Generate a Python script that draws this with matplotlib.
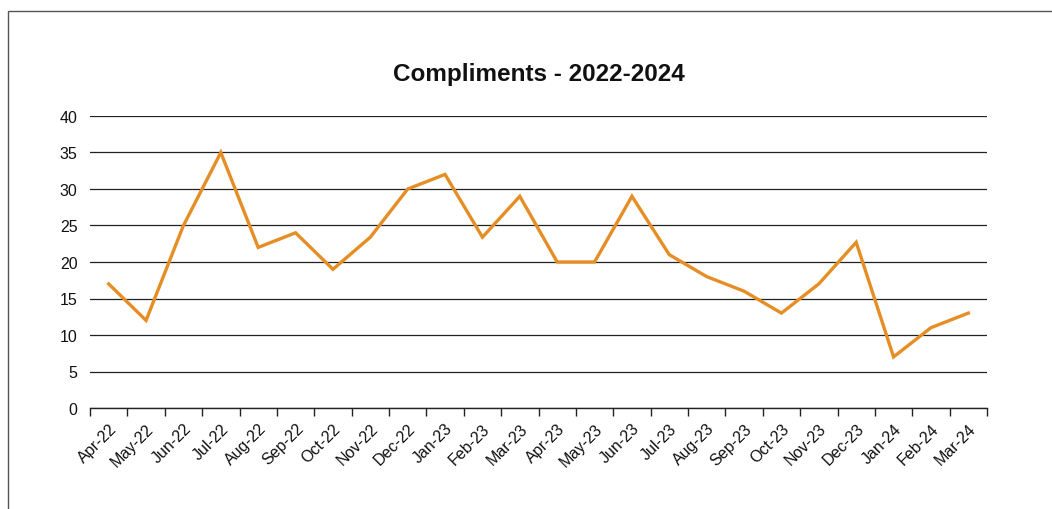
import matplotlib
matplotlib.use("Agg")
import matplotlib.pyplot as plt
from matplotlib.patches import Rectangle
import numpy as np

plt.rcParams['font.family'] = ['Liberation Sans', 'DejaVu Sans']

# monthly compliments, Apr-22 .. Mar-24
months = ['Apr-22', 'May-22', 'Jun-22', 'Jul-22', 'Aug-22', 'Sep-22', 'Oct-22', 'Nov-22',
          'Dec-22', 'Jan-23', 'Feb-23', 'Mar-23', 'Apr-23', 'May-23', 'Jun-23', 'Jul-23',
          'Aug-23', 'Sep-23', 'Oct-23', 'Nov-23', 'Dec-23', 'Jan-24', 'Feb-24', 'Mar-24']
compliments = [17, 12, 25, 35, 22, 24, 19, 23.4, 30, 32, 23.4, 29,
               20, 20, 29, 21, 18, 16, 13, 17, 22.7, 7, 11, 13]
y_ticks = [0, 5, 10, 15, 20, 25, 30, 35, 40]

W, H = 1052, 510
fig = plt.figure(figsize=(W / 100, H / 100), dpi=100)

# outer frame of the chart area
fig.patches.append(Rectangle((8 / W, -0.05), 1.2, 1 - 12 / H + 0.05, transform=fig.transFigure,
                             fill=False, edgecolor='#555555', linewidth=1.0))

ax = fig.add_axes([90 / W, 1 - 409 / H, (987 - 90) / W, (409 - 117) / H])
x = np.arange(len(months))
ax.plot(x, compliments, color='#E58E26', linewidth=2.4, solid_joinstyle='miter', zorder=3)

ax.set_xlim(-0.5, len(months) - 0.5)
ax.set_ylim(0, 40)
ax.set_yticks(y_ticks)
ax.yaxis.grid(True, color='#222222', linewidth=0.9)
ax.set_axisbelow(True)
ax.tick_params(axis='y', length=0, pad=9, labelsize=11.5, labelcolor='#111111')

# labels at category centres, tick marks at category boundaries
ax.set_xticks(x)
ax.set_xticklabels(months, rotation=45, ha='right', rotation_mode='anchor',
                   fontsize=11.5, color='#111111')
ax.tick_params(axis='x', which='major', length=0, pad=9)
ax.set_xticks(np.arange(-0.5, len(months)), minor=True)
ax.tick_params(axis='x', which='minor', length=6, width=1, color='#222222')

for s in ['top', 'right', 'left']:
    ax.spines[s].set_visible(False)
ax.spines['bottom'].set_color('#222222')
ax.spines['bottom'].set_linewidth(1.0)

fig.text((90 + 987) / 2 / W, 1 - 75 / H, 'Compliments - 2022-2024', ha='center', va='center',
         fontsize=17.5, fontweight='bold', color='#111111')

fig.savefig('out.png', dpi=100)
